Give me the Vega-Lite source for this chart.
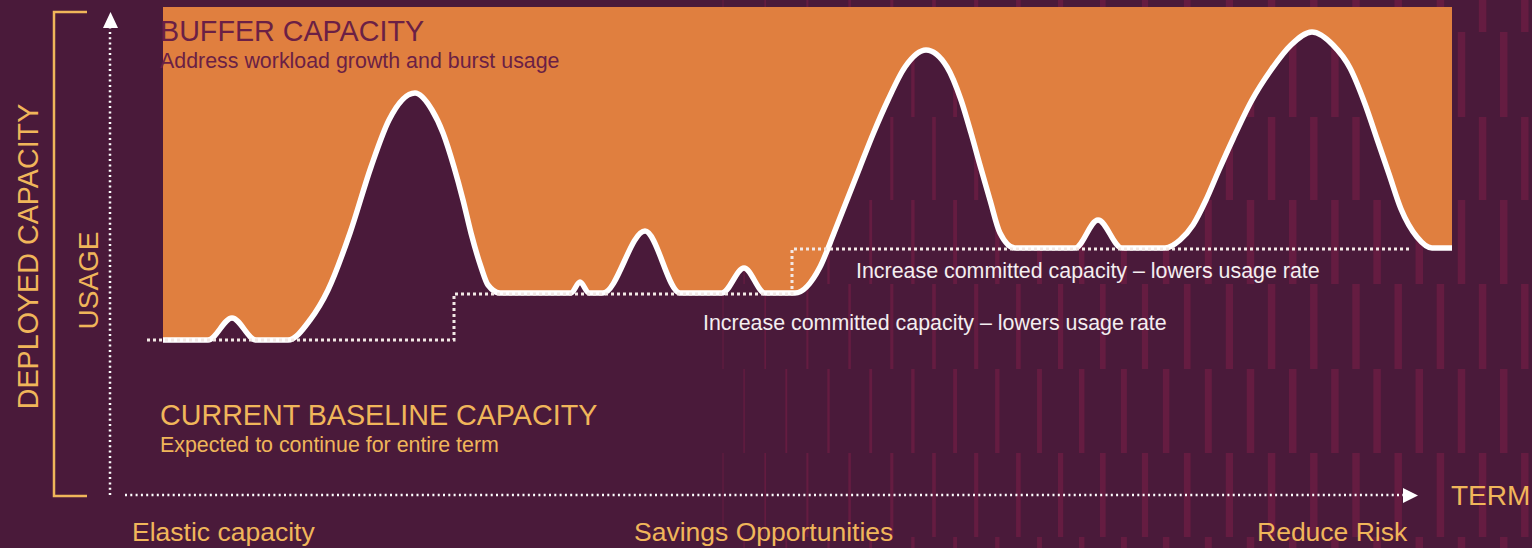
{
  "$schema": "https://vega.github.io/schema/vega-lite/v6.json",
  "width": 1532,
  "height": 548,
  "padding": 0,
  "autosize": {"type": "none"},
  "background": "#4a1a3a",
  "config": {"view": {"stroke": null}, "font": "Liberation Sans"},
  "encoding": {
    "x": {"field": "x", "type": "quantitative", "scale": {"domain": [0, 1532], "nice": false, "zero": false}, "axis": null},
    "y": {"field": "y", "type": "quantitative", "scale": {"domain": [0, 548], "nice": false, "zero": false}, "axis": null}
  },
  "layer": [
    {
      "data": {"values": [
        {"x": 723, "y": [516, 348, 179, 11], "y2": [548, 431, 264, 95]},
        {"x": 765.2, "y": [516, 348, 179, 11], "y2": [548, 431, 264, 95]},
        {"x": 807.4, "y": [516, 348, 179, 11], "y2": [548, 431, 264, 95]},
        {"x": 849.6, "y": [516, 348, 179, 11], "y2": [548, 431, 264, 95]},
        {"x": 891.8, "y": [516, 348, 179, 11], "y2": [548, 431, 264, 95]},
        {"x": 934, "y": [516, 348, 179, 11], "y2": [548, 431, 264, 95]},
        {"x": 976.2, "y": [516, 348, 179, 11], "y2": [548, 431, 264, 95]},
        {"x": 1018.4, "y": [516, 348, 179, 11], "y2": [548, 431, 264, 95]},
        {"x": 1060.6, "y": [516, 348, 179, 11], "y2": [548, 431, 264, 95]},
        {"x": 1102.8, "y": [516, 348, 179, 11], "y2": [548, 431, 264, 95]},
        {"x": 1145, "y": [516, 348, 179, 11], "y2": [548, 431, 264, 95]},
        {"x": 1187.2, "y": [516, 348, 179, 11], "y2": [548, 431, 264, 95]},
        {"x": 1229.4, "y": [516, 348, 179, 11], "y2": [548, 431, 264, 95]},
        {"x": 1271.6, "y": [516, 348, 179, 11], "y2": [548, 431, 264, 95]},
        {"x": 1313.8, "y": [516, 348, 179, 11], "y2": [548, 431, 264, 95]},
        {"x": 1356, "y": [516, 348, 179, 11], "y2": [548, 431, 264, 95]},
        {"x": 1398.2, "y": [516, 348, 179, 11], "y2": [548, 431, 264, 95]},
        {"x": 1440.4, "y": [516, 348, 179, 11], "y2": [548, 431, 264, 95]},
        {"x": 1482.6, "y": [516, 348, 179, 11], "y2": [548, 431, 264, 95]},
        {"x": 1524.8, "y": [516, 348, 179, 11], "y2": [548, 431, 264, 95]},
        {"x": 744.1, "y": [431, 264, 95, 0], "y2": [516, 348, 179, 11]},
        {"x": 786.3, "y": [431, 264, 95, 0], "y2": [516, 348, 179, 11]},
        {"x": 828.5, "y": [431, 264, 95, 0], "y2": [516, 348, 179, 11]},
        {"x": 870.7, "y": [431, 264, 95, 0], "y2": [516, 348, 179, 11]},
        {"x": 912.9, "y": [431, 264, 95, 0], "y2": [516, 348, 179, 11]},
        {"x": 955.1, "y": [431, 264, 95, 0], "y2": [516, 348, 179, 11]},
        {"x": 997.3, "y": [431, 264, 95, 0], "y2": [516, 348, 179, 11]},
        {"x": 1039.5, "y": [431, 264, 95, 0], "y2": [516, 348, 179, 11]},
        {"x": 1081.7, "y": [431, 264, 95, 0], "y2": [516, 348, 179, 11]},
        {"x": 1123.9, "y": [431, 264, 95, 0], "y2": [516, 348, 179, 11]},
        {"x": 1166.1, "y": [431, 264, 95, 0], "y2": [516, 348, 179, 11]},
        {"x": 1208.3, "y": [431, 264, 95, 0], "y2": [516, 348, 179, 11]},
        {"x": 1250.5, "y": [431, 264, 95, 0], "y2": [516, 348, 179, 11]},
        {"x": 1292.7, "y": [431, 264, 95, 0], "y2": [516, 348, 179, 11]},
        {"x": 1334.9, "y": [431, 264, 95, 0], "y2": [516, 348, 179, 11]},
        {"x": 1377.1, "y": [431, 264, 95, 0], "y2": [516, 348, 179, 11]},
        {"x": 1419.3, "y": [431, 264, 95, 0], "y2": [516, 348, 179, 11]},
        {"x": 1461.5, "y": [431, 264, 95, 0], "y2": [516, 348, 179, 11]},
        {"x": 1503.7, "y": [431, 264, 95, 0], "y2": [516, 348, 179, 11]}
      ]},
      "transform": [{"flatten": ["y", "y2"]}],
      "mark": {"type": "rule", "color": "#651c41"},
      "encoding": {
        "y2": {"field": "y2"},
        "size": {"field": "x", "type": "quantitative", "scale": {"domain": [700, 1250], "range": [0.8, 7.5], "clamp": true}, "legend": null}
      }
    },
    {
      "data": {"name": "usage", "values": [
        {"x": 163, "y": 208}, {"x": 208, "y": 208}, {"x": 232, "y": 230}, {"x": 256, "y": 208},
        {"x": 288, "y": 208}, {"x": 310, "y": 228}, {"x": 328, "y": 258}, {"x": 350, "y": 315},
        {"x": 371, "y": 381}, {"x": 389, "y": 428}, {"x": 415, "y": 455},
        {"x": 432, "y": 438}, {"x": 443, "y": 415}, {"x": 454, "y": 381}, {"x": 463, "y": 348},
        {"x": 471, "y": 315}, {"x": 481, "y": 281}, {"x": 488, "y": 263}, {"x": 500, "y": 255},
        {"x": 571, "y": 255}, {"x": 580, "y": 266},
        {"x": 589, "y": 255}, {"x": 603, "y": 255}, {"x": 645, "y": 317}, {"x": 680, "y": 255},
        {"x": 722, "y": 255}, {"x": 744, "y": 280}, {"x": 765, "y": 255}, {"x": 795, "y": 255},
        {"x": 820, "y": 281}, {"x": 834, "y": 315}, {"x": 847, "y": 348}, {"x": 860, "y": 381},
        {"x": 873.5, "y": 415}, {"x": 888, "y": 448}, {"x": 905, "y": 481}, {"x": 926, "y": 498},
        {"x": 947, "y": 481}, {"x": 961, "y": 448}, {"x": 971, "y": 415}, {"x": 980.5, "y": 381},
        {"x": 990, "y": 348}, {"x": 1000, "y": 315}, {"x": 1015, "y": 300}, {"x": 1075, "y": 300},
        {"x": 1098, "y": 328}, {"x": 1122, "y": 300}, {"x": 1165, "y": 300}, {"x": 1180, "y": 308},
        {"x": 1193, "y": 323}, {"x": 1206, "y": 348}, {"x": 1219, "y": 378}, {"x": 1233, "y": 409},
        {"x": 1252, "y": 448}, {"x": 1271, "y": 478}, {"x": 1291, "y": 503}, {"x": 1312, "y": 516},
        {"x": 1333, "y": 503}, {"x": 1350, "y": 480}, {"x": 1365, "y": 444}, {"x": 1377, "y": 409},
        {"x": 1389, "y": 374}, {"x": 1401, "y": 339}, {"x": 1417, "y": 311},
        {"x": 1432, "y": 300}, {"x": 1452, "y": 300}
      ]},
      "layer": [
        {
          "mark": {"type": "area", "color": "#e07f3f", "interpolate": "monotone"},
          "encoding": {"y2": {"datum": 541}}
        },
        {
          "mark": {"type": "line", "color": "#ffffff", "strokeWidth": 5.5, "interpolate": "monotone", "strokeJoin": "round"},
          "encoding": {}
        }
      ]
    },
    {
      "data": {"values": [
        {"x": 147, "y": 208, "o": 1}, {"x": 454, "y": 208, "o": 2}, {"x": 454, "y": 254, "o": 3},
        {"x": 792, "y": 254, "o": 4}, {"x": 792, "y": 299, "o": 5}, {"x": 1410, "y": 299, "o": 6}
      ]},
      "mark": {"type": "line", "color": "#f3e9e6", "strokeWidth": 3, "strokeDash": [3, 3]},
      "encoding": {"order": {"field": "o", "type": "quantitative"}}
    },
    {
      "data": {"values": [{"x": 110, "y": 53}, {"x": 110, "y": 521}]},
      "mark": {"type": "line", "color": "#ffffff", "strokeWidth": 2.5, "strokeDash": [2, 3.3]},
      "encoding": {}
    },
    {
      "data": {"values": [{"x": 125, "y": 53}, {"x": 1403, "y": 53}]},
      "mark": {"type": "line", "color": "#ffffff", "strokeWidth": 2.5, "strokeDash": [2, 3.3]},
      "encoding": {}
    },
    {
      "data": {"values": [{"x": 110.5, "y": 528}]},
      "mark": {"type": "point", "shape": "M0,-1L0.94,1L-0.94,1Z", "filled": true, "color": "#ffffff", "opacity": 1, "size": 256}
    },
    {
      "data": {"values": [{"x": 1410.5, "y": 52.5}]},
      "mark": {"type": "point", "shape": "M1,0L-1,-1L-1,1Z", "filled": true, "color": "#ffffff", "opacity": 1, "size": 225}
    },
    {
      "data": {"values": [
        {"x": 87, "y": 536, "o": 1}, {"x": 54, "y": 536, "o": 2}, {"x": 54, "y": 52, "o": 3}, {"x": 87, "y": 52, "o": 4}
      ]},
      "mark": {"type": "line", "color": "#f0b65a", "strokeWidth": 2.5},
      "encoding": {"order": {"field": "o", "type": "quantitative"}}
    },
    {
      "data": {"values": [{"x": 160, "y": 507, "label": "BUFFER CAPACITY"}]},
      "mark": {"type": "text", "align": "left", "baseline": "alphabetic", "fontSize": 28.7, "color": "#6b1f45"},
      "encoding": {"text": {"field": "label"}}
    },
    {
      "data": {"values": [{"x": 160, "y": 480, "label": "Address workload growth and burst usage"}]},
      "mark": {"type": "text", "align": "left", "baseline": "alphabetic", "fontSize": 21.4, "color": "#6b1f45"},
      "encoding": {"text": {"field": "label"}}
    },
    {
      "data": {"values": [{"x": 160, "y": 123, "label": "CURRENT BASELINE CAPACITY"}]},
      "mark": {"type": "text", "align": "left", "baseline": "alphabetic", "fontSize": 28.7, "color": "#f0b65a"},
      "encoding": {"text": {"field": "label"}}
    },
    {
      "data": {"values": [{"x": 160, "y": 96, "label": "Expected to continue for entire term"}]},
      "mark": {"type": "text", "align": "left", "baseline": "alphabetic", "fontSize": 21.4, "color": "#f0b65a"},
      "encoding": {"text": {"field": "label"}}
    },
    {
      "data": {"values": [
        {"x": 856, "y": 270, "label": "Increase committed capacity – lowers usage rate"},
        {"x": 703, "y": 218, "label": "Increase committed capacity – lowers usage rate"}
      ]},
      "mark": {"type": "text", "align": "left", "baseline": "alphabetic", "fontSize": 21.4, "color": "#f4eef0"},
      "encoding": {"text": {"field": "label"}}
    },
    {
      "data": {"values": [
        {"x": 132, "y": 7, "label": "Elastic capacity"},
        {"x": 634, "y": 7, "label": "Savings Opportunities"},
        {"x": 1257, "y": 7, "label": "Reduce Risk"}
      ]},
      "mark": {"type": "text", "align": "left", "baseline": "alphabetic", "fontSize": 26.5, "color": "#f0b65a"},
      "encoding": {"text": {"field": "label"}}
    },
    {
      "data": {"values": [{"x": 1451, "y": 43, "label": "TERM"}]},
      "mark": {"type": "text", "align": "left", "baseline": "alphabetic", "fontSize": 28, "color": "#f0b65a"},
      "encoding": {"text": {"field": "label"}}
    },
    {
      "data": {"values": [{"x": 38, "y": 291.5, "label": "DEPLOYED CAPACITY"}]},
      "mark": {"type": "text", "align": "center", "baseline": "alphabetic", "angle": 270, "fontSize": 28.7, "color": "#f0b65a"},
      "encoding": {"text": {"field": "label"}}
    },
    {
      "data": {"values": [{"x": 98, "y": 267.5, "label": "USAGE"}]},
      "mark": {"type": "text", "align": "center", "baseline": "alphabetic", "angle": 270, "fontSize": 28, "color": "#f0b65a"},
      "encoding": {"text": {"field": "label"}}
    }
  ]
}
